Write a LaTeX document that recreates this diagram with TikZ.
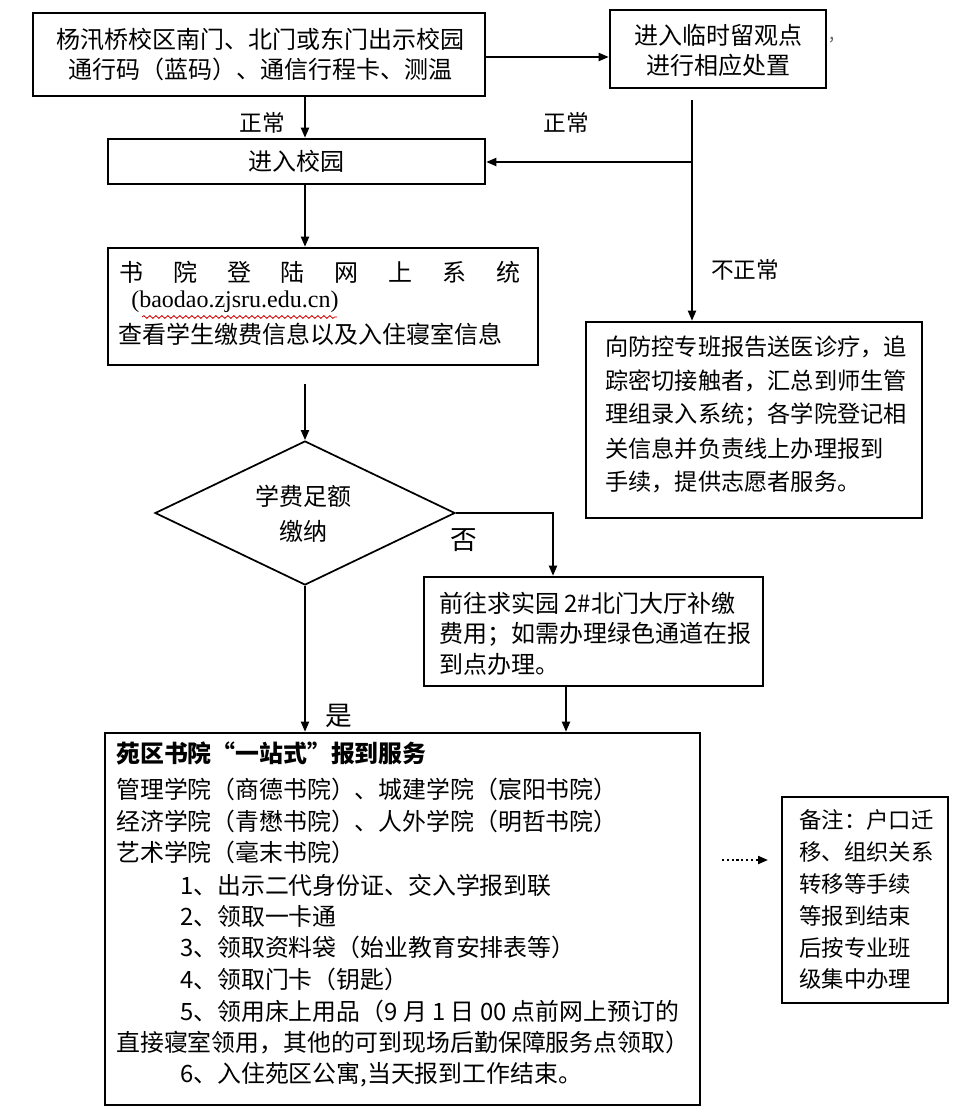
\documentclass[tikz,border=0pt]{standalone}
\usepackage{fontspec}
\setmainfont{Noto Sans CJK SC}
\newfontfamily\latserif{Liberation Serif}
\XeTeXlinebreaklocale "zh"
\usetikzlibrary{fit,arrows.meta,shapes.geometric,decorations.pathmorphing}
\begin{document}
\begin{tikzpicture}[x=0.75pt,y=-0.75pt,
  box/.style={draw,line width=1.9pt,inner sep=0pt},
  txt/.style={inner sep=0pt,font=\fontsize{18}{22.5}\selectfont},
  ltxt/.style={txt,anchor=west},
  lab/.style={inner sep=0pt,font=\fontsize{17}{20}\selectfont},
  biglab/.style={inner sep=0pt,font=\fontsize{20}{24}\selectfont},
  arr/.style={line width=1.4pt,-{Triangle[length=7.5pt,width=6pt]}},
  plain/.style={line width=1.4pt}
]
\useasboundingbox (0,0) rectangle (978,1120);
\fill[white] (0,0) rectangle (978,1120);

% ---------- boxes ----------
\node[box,fit={(33,13) (485,96)}] (gate) {};
\node[txt,align=center] (gatet) at (260,55) {杨汛桥校区南门、北门或东门出示校园\\通行码（蓝码）、通信行程卡、测温};

\node[box,fit={(610,10) (826,88)}] (obs) {};
\node[txt,align=center] (obst) at (718,50) {进入临时留观点\\进行相应处置};
\node[inner sep=0pt,font=\fontsize{14}{16}\selectfont,text=black!60] (comma) at (832,40) {,};

\node[box,fit={(108,139) (485,184)}] (campus) {};
\node[txt] (campust) at (campus.center) {进入校园};

\node[box,fit={(108,248) (538,365)}] (sys) {};
\node[ltxt] (sys1) at (119,272) {\makebox[301pt][s]{书\hfill 院\hfill 登\hfill 陆\hfill 网\hfill 上\hfill 系\hfill 统}};
\node[ltxt,font=\fontsize{18}{22}\latserif] (sys2) at (131,302) {(baodao.zjsru.edu.cn)};
\node[ltxt] (sys3) at (118,334) {查看学生缴费信息以及入住寝室信息};
\draw[red!80!black,line width=0.6pt,decorate,decoration={snake,segment length=4.5pt,amplitude=1pt}] (142,317) -- (337,317);

\node[box,fit={(586,322) (922,518)}] (med) {};
\begin{scope}[every node/.style={inner sep=0pt,anchor=west,font=\fontsize{17.4}{22}\selectfont}]
\node (med1) at (605,347) {向防控专班报告送医诊疗，追};
\node (med2) at (605,381) {踪密切接触者，汇总到师生管};
\node (med3) at (605,415) {理组录入系统；各学院登记相};
\node (med4) at (605,449) {关信息并负责线上办理报到};
\node (med5) at (605,482) {手续，提供志愿者服务。};
\end{scope}

\node[draw,diamond,line width=1.3pt,minimum width=225pt,minimum height=108pt,inner sep=0pt] (fee) at (305,513) {};
\node[txt,align=center,font=\fontsize{18}{26}\selectfont] (feet) at (303,514) {学费足额\\缴纳};

\node[box,fit={(424,577) (763,686)}] (pay) {};
\begin{scope}[every node/.style={inner sep=0pt,anchor=west,font=\fontsize{18}{22}\selectfont}]
\node (pay1) at (439,603) {前往求实园 2\#北门大厅补缴};
\node (pay2) at (439,634) {费用；如需办理绿色通道在报};
\node (pay3) at (439,664) {到点办理。};
\end{scope}

\node[box,fit={(105,733) (700,1105)}] (big) {};
\begin{scope}[every node/.style={inner sep=0pt,anchor=west,font=\fontsize{17.9}{22}\selectfont}]
\node[font=\fontsize{17.9}{22}\selectfont\bfseries] (b0) at (116,753) {苑区书院“一站式”报到服务};
\node (b1) at (116,789) {管理学院（商德书院）、城建学院（宸阳书院）};
\node (b2) at (116,821) {经济学院（青懋书院）、人外学院（明哲书院）};
\node (b3) at (116,852) {艺术学院（毫末书院）};
\node (b4) at (180,885) {1、出示二代身份证、交入学报到联};
\node (b5) at (180,916) {2、领取一卡通};
\node (b6) at (180,947) {3、领取资料袋（始业教育安排表等）};
\node (b7) at (180,979) {4、领取门卡（钥匙）};
\node (b8) at (180,1011) {5、领用床上用品（9 月 1 日 00 点前网上预订的};
\node (b9) at (116,1043) {直接寝室领用，其他的可到现场后勤保障服务点领取）};
\node (b10) at (180,1075) {6、入住苑区公寓,当天报到工作结束。};
\end{scope}

\node[box,fit={(782,797) (948,1003)}] (note) {};
\begin{scope}[every node/.style={inner sep=0pt,anchor=west,font=\fontsize{16.8}{22}\selectfont}]
\node (n1) at (799,820) {备注：户口迁};
\node (n2) at (799,852) {移、组织关系};
\node (n3) at (799,884) {转移等手续};
\node (n4) at (799,916) {等报到结束};
\node (n5) at (799,948) {后按专业班};
\node (n6) at (799,979) {级集中办理};
\end{scope}

% ---------- labels ----------
\node[lab] (l1) at (262,123) {正常};
\node[lab] (l2) at (566,123) {正常};
\node[lab] (l3) at (745,270) {不正常};
\node[biglab] (lno) at (464,540) {否};
\node[biglab] (lyes) at (339,716) {是};

% ---------- connectors ----------
\draw[arr] (gate.east |- 0,57) -- (obs.west |- 0,57);
\draw[arr] (305,0 |- gate.south) -- (305,0 |- campus.north);
\coordinate (rtop) at (692,100);
\coordinate (rbr) at (692,162);
\draw[arr] (rtop) -- (692,0 |- med.north);
\draw[arr] (rbr) -- (rbr -| campus.east);
\draw[arr] (305,0 |- campus.south) -- (305,0 |- sys.north);
\draw[arr,shorten <=18*0.75pt] (305,0 |- sys.south) -- (fee.north);
\coordinate (nobend) at (553,0 |- fee.east);
\draw[arr] (fee.east) -- (nobend) -- (nobend |- pay.north);
\draw[arr] (fee.south) -- (fee.south |- big.north);
\draw[arr] (566,0 |- pay.south) -- (566,0 |- big.north);
\coordinate (d1) at (722,860);
\coordinate (d2) at (768,860);
\draw[line width=1.6pt,dotted,-{Triangle[length=7.5pt,width=6pt]}] (d1) -- (d2);
\end{tikzpicture}
\end{document}
